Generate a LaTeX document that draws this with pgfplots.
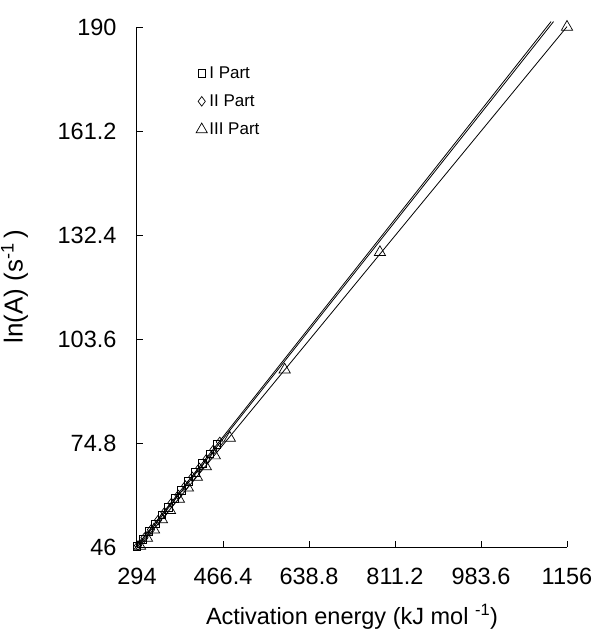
\documentclass[border=0pt]{standalone}
\usepackage{pgfplots}
\pgfplotsset{compat=1.18}
\usepackage{fontspec}
\setmainfont{Liberation Sans}
\begin{document}
\begin{tikzpicture}
\useasboundingbox (-137pt,-90pt) rectangle (459pt,547pt);
\begin{axis}[
  at={(0pt,0pt)}, anchor=south west,
  scale only axis, width=430pt, height=520pt,
  xmin=294, xmax=1156, ymin=46, ymax=190,
  axis x line=bottom, axis y line=left,
  axis line style={-, line width=1pt},
  tick align=inside, major tick length=6pt,
  tick style={black, line width=0.8pt},
  xtick={294,466.4,638.8,811.2,983.6,1156},
  xticklabels={294,466.4,638.8,811.2,983.6,1156},
  ytick={46,74.8,103.6,132.4,161.2,190},
  yticklabels={46,74.8,103.6,132.4,161.2,190},
  ticklabel style={font=\fontsize{23.5}{26}\selectfont},
  xticklabel style={yshift=-18pt},
  yticklabel style={xshift=-17pt},
  xlabel={Activation energy (kJ mol \textsuperscript{-1})},
  ylabel={ln(A) (s\textsuperscript{-1}\,)},
  label style={font=\fontsize{23.5}{26}\selectfont},
  xlabel style={at={(axis description cs:0.5,-0.135)}, anchor=center},
  ylabel style={at={(axis description cs:-0.285,0.5)}, anchor=center, rotate=0, font=\fontsize{26}{28}\selectfont},
  clip=false,
  legend style={at={(rel axis cs:0.13,0.932)}, anchor=north west, draw=none, fill=none,
    font=\fontsize{17}{19}\selectfont, row sep=11pt},
  legend image post style={xshift=-3pt},
  legend cell align=left,
]
\addplot[only marks, mark=square, mark size=3.8pt, mark options={black, line width=0.7pt, fill=white}] coordinates {
(294,46.2)(306,48.1)(318,50.3)(331,52.4)(344,54.9)(357,57.0)(370,59.5)(383,61.7)(397,64.2)(411,66.6)(425,69.1)(440,71.8)(454,74.5)
};
\addlegendentry{I Part}
\addplot[only marks, mark=diamond, mark size=4.8pt, mark options={black, line width=0.7pt, fill=white}] coordinates {
(296,46.4)(309,48.6)(322,50.8)(336,53.4)(349,55.6)(363,58.2)(377,60.4)(391,63.0)(405,65.4)(419,67.9)(433,70.3)(447,72.9)(460,75.1)
};
\addlegendentry{II Part}
\addplot[only marks, mark=triangle, mark size=6.5pt, mark options={black, line width=0.7pt, fill=white}] coordinates {
(300,46.3)(314,48.5)(328,50.8)(344,53.6)(360,56.2)(378,59.3)(396,62.4)(414,65.4)(432,68.3)(450,71.3)(480,76.2)(590,95.1)(781,127.6)(1156,190)
};
\addlegendentry{III Part}
\addplot[black, line width=0.8pt, forget plot] coordinates {(292,46)(1124,191.5)};
\addplot[black, line width=0.8pt, forget plot] coordinates {(295,46)(1129,191.5)};
\addplot[black, line width=0.8pt, forget plot] coordinates {(298,46)(1156,190.1)};
\end{axis}
\end{tikzpicture}
\end{document}
